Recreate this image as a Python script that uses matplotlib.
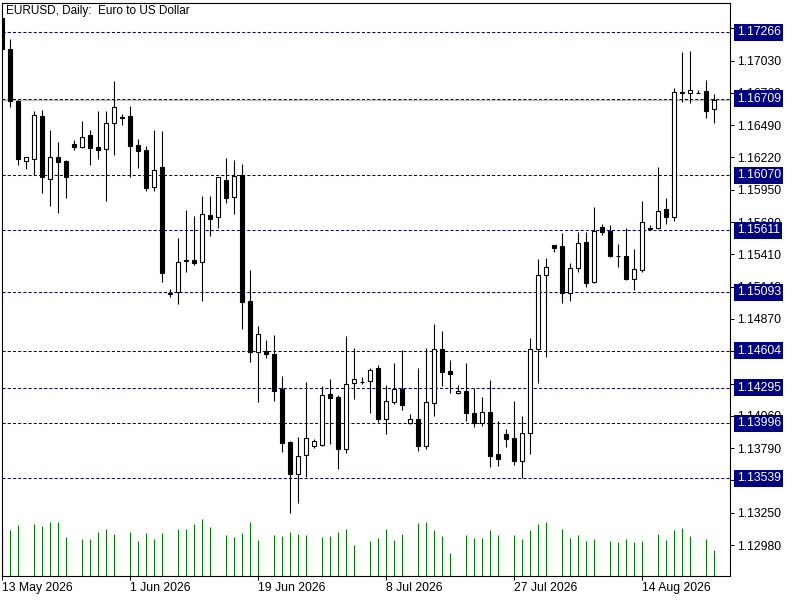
#EURUSD daily candles, MT5 look

import numpy as np
import pandas as pd
import matplotlib
matplotlib.use("Agg")
import matplotlib.pyplot as plt
from matplotlib.patches import Rectangle

# trading days: Sunday bars included, Saturdays skipped
all_days = pd.date_range("2026-05-13", "2026-08-25")
dates = all_days[all_days.dayofweek != 5]

opens = [1.17383, 1.17126, 1.16691, 1.16192, 1.16204, 1.16566, 1.16037, 1.16221, 1.16190, 1.16332,
         1.16304, 1.16407, 1.16304, 1.16288, 1.16505, 1.16555, 1.16566, 1.16324, 1.16282, 1.15975,
         1.16142, 1.15090, 1.15097, 1.15358, 1.15362, 1.15343, 1.15736, 1.15724, 1.16031, 1.15886,
         1.16073, 1.15019, 1.14591, 1.14604, 1.14576, 1.14284, 1.13838, 1.13576, 1.13730, 1.13805,
         1.13818, 1.14242, 1.14217, 1.13785, 1.14331, 1.14345, 1.14353, 1.14457, 1.14035, 1.14178,
         1.14284, 1.13997, 1.14033, 1.13810, 1.14164, 1.14616, 1.14434, 1.14248, 1.14267, 1.14081,
         1.13997, 1.14089, 1.13740, 1.13905, 1.13872, 1.13684, 1.13913, 1.14616, 1.15234, 1.15485,
         1.15479, 1.15084, 1.15293, 1.15510, 1.15181, 1.15636, 1.15605, 1.15398, 1.15396, 1.15203,
         1.15279, 1.15632, 1.15627, 1.15789, 1.15719, 1.16764, 1.16756, 1.16761, 1.16778, 1.16622]
highs = [1.17390, 1.17210, 1.16700, 1.16221, 1.16608, 1.16616, 1.16449, 1.16351, 1.16198, 1.16365,
         1.16524, 1.16449, 1.16608, 1.16608, 1.16859, 1.16583, 1.16650, 1.16371, 1.16315, 1.16449,
         1.16441, 1.15120, 1.15544, 1.15780, 1.15730, 1.15897, 1.15897, 1.16060, 1.16212, 1.16198,
         1.16165, 1.15279, 1.14810, 1.14693, 1.14735, 1.14392, 1.13850, 1.13880, 1.14340, 1.13866,
         1.14309, 1.14365, 1.14234, 1.14727, 1.14624, 1.14382, 1.14457, 1.14484, 1.14317, 1.14499,
         1.14610, 1.14075, 1.14457, 1.14624, 1.14827, 1.14769, 1.14526, 1.14315, 1.14499, 1.14290,
         1.14219, 1.14359, 1.14019, 1.13947, 1.14183, 1.14058, 1.14713, 1.15368, 1.15376, 1.15490,
         1.15590, 1.15340, 1.15599, 1.15599, 1.15808, 1.15663, 1.15655, 1.15496, 1.15627, 1.15452,
         1.15855, 1.15655, 1.16142, 1.15878, 1.16798, 1.17104, 1.17112, 1.16783, 1.16867, 1.16747]
lows = [1.17110, 1.16639, 1.16156, 1.16123, 1.16073, 1.15920, 1.15816, 1.15758, 1.15878, 1.16282,
        1.16296, 1.16156, 1.16207, 1.15858, 1.16240, 1.16491, 1.16059, 1.16129, 1.15942, 1.15942,
        1.15181, 1.15055, 1.14992, 1.15264, 1.15320, 1.15022, 1.15565, 1.15632, 1.15836, 1.15744,
        1.14783, 1.14512, 1.14178, 1.14545, 1.14186, 1.13760, 1.13245, 1.13328, 1.13546, 1.13793,
        1.13810, 1.13824, 1.13617, 1.13751, 1.14200, 1.14323, 1.14081, 1.14010, 1.13908, 1.14159,
        1.14108, 1.13995, 1.13768, 1.13780, 1.14061, 1.14311, 1.14248, 1.14245, 1.14019, 1.13964,
        1.13974, 1.13634, 1.13643, 1.13801, 1.13648, 1.13537, 1.13740, 1.14336, 1.14549, 1.15427,
        1.15000, 1.15022, 1.15264, 1.15139, 1.15172, 1.15571, 1.15385, 1.15306, 1.15195, 1.15111,
        1.15264, 1.15614, 1.15619, 1.15661, 1.15691, 1.16686, 1.16677, 1.16756, 1.16547, 1.16505]
closes = [1.17124, 1.16691, 1.16207, 1.16221, 1.16574, 1.16054, 1.16221, 1.16184, 1.16054, 1.16304,
          1.16388, 1.16296, 1.16284, 1.16505, 1.16639, 1.16552, 1.16318, 1.16276, 1.15967, 1.16112,
          1.15251, 1.15080, 1.15348, 1.15362, 1.15340, 1.15747, 1.15705, 1.16054, 1.15883, 1.16064,
          1.15014, 1.14591, 1.14741, 1.14579, 1.14270, 1.13835, 1.13576, 1.13721, 1.13872, 1.13847,
          1.14231, 1.14211, 1.13785, 1.14323, 1.14365, 1.14340, 1.14443, 1.14033, 1.14183, 1.14284,
          1.14153, 1.14033, 1.13810, 1.14173, 1.14616, 1.14428, 1.14407, 1.14267, 1.14086, 1.13997,
          1.14089, 1.13726, 1.13699, 1.13868, 1.13684, 1.13913, 1.14616, 1.15234, 1.15306, 1.15465,
          1.15084, 1.15293, 1.15502, 1.15172, 1.15607, 1.15599, 1.15396, 1.15395, 1.15203, 1.15284,
          1.15682, 1.15625, 1.15774, 1.15719, 1.16764, 1.16756, 1.16783, 1.16759, 1.16610, 1.16700]
# tick volume, thousands (Sunday bars ~0)
volumes = [45, 46, 51, 0, 52, 50, 54, 54, 39, 0, 37, 37, 44, 47, 42, 0, 44, 35, 43, 37,
           43, 0, 47, 47, 52, 57, 49, 0, 41, 39, 43, 54, 36, 0, 41, 40, 44, 42, 41, 0,
           39, 40, 44, 47, 31, 0, 35, 38, 47, 36, 42, 0, 53, 54, 46, 40, 23, 0, 41, 38,
           38, 46, 41, 0, 41, 37, 46, 52, 54, 0, 47, 38, 41, 35, 37, 0, 35, 34, 37, 34,
           35, 0, 42, 36, 46, 48, 40, 0, 37, 26]

levels = [1.17266, 1.16709, 1.16070, 1.15611, 1.15093, 1.14604, 1.14295, 1.13996, 1.13539]
bid = 1.16700
price_ticks = [1.12980, 1.13250, 1.13520, 1.13790, 1.14060, 1.14330, 1.14600, 1.14870,
               1.15140, 1.15410, 1.15680, 1.15950, 1.16220, 1.16490, 1.16760, 1.17030, 1.17300]
date_ticks = ["2026-05-13", "2026-06-01", "2026-06-19", "2026-07-08", "2026-07-27", "2026-08-14"]
date_labels = ["13 May 2026", "1 Jun 2026", "19 Jun 2026", "8 Jul 2026", "27 Jul 2026", "14 Aug 2026"]

title = "EURUSD, Daily:  Euro to US Dollar"

plt.rcParams['font.family'] = ['Liberation Sans', 'DejaVu Sans']
navy = '#000080'
fs = 8.8


def main():
    fig = plt.figure(figsize=(8, 6), dpi=100)
    ax = fig.add_axes([2 / 800, 24 / 600, 728 / 800, 573 / 600])

    # volumes along the bottom, behind the candles
    x = np.arange(len(dates))
    ax2 = ax.twinx()
    vx = [i for i in x if volumes[i] > 0]
    vv = [volumes[i] for i in vx]
    ax2.vlines(vx, 0, vv, colors='#008000', lw=0.8)
    ax2.set_ylim(0, max(volumes) * 10)
    ax2.set_yticks([])
    ax2.set_zorder(ax.get_zorder() - 1)
    ax.patch.set_visible(False)
    for s in ax2.spines.values():
        s.set_visible(False)

    w = 0.5
    for i in x:
        o, h, l, c = opens[i], highs[i], lows[i], closes[i]
        ax.vlines(i, l, h, color='black', lw=0.8, zorder=3)
        fc = 'black' if c < o else 'white'
        ax.add_patch(Rectangle((i - w / 2, min(o, c)), w, abs(c - o),
                               fc=fc, ec='black', lw=0.8, zorder=4))

    for lv in levels:
        ax.axhline(lv, color=navy, lw=0.75, ls=(0, (3, 2)), zorder=1)
        ax.text(1.0095, lv, f"{lv:.5f}", transform=ax.get_yaxis_transform(),
                color='white', fontsize=fs, va='center', ha='left', zorder=10,
                bbox=dict(boxstyle='square,pad=0.2', fc=navy, ec='none'))
    ax.axhline(bid, color='#c0c0c0', lw=0.75, zorder=0.9)

    ax.set_xlim(-0.0625, 90.94)
    ax.set_ylim(1.12721, 1.17511)
    ax2.set_xlim(ax.get_xlim())

    ax.yaxis.tick_right()
    ax.set_yticks(price_ticks)
    ax.set_yticklabels([f"{t:.5f}" for t in price_ticks])
    ax.tick_params(axis='y', which='both', left=False, right=True, labelleft=False,
                   labelright=True, length=3, width=0.75, pad=2, labelsize=fs)

    pos = [dates.get_loc(pd.Timestamp(d)) for d in date_ticks]
    ax.set_xticks(pos)
    ax.set_xticklabels(date_labels)
    for lab in ax.get_xticklabels():
        lab.set_ha('left')
    ax.tick_params(axis='x', length=3, width=0.75, pad=1.5, labelsize=fs)

    for s in ax.spines.values():
        s.set_linewidth(0.8)
        s.set_color('black')

    ax.annotate(title, xy=(0, 1), xycoords='axes fraction', xytext=(4, -2),
                textcoords='offset pixels', ha='left', va='top', fontsize=8.5)

    fig.savefig("out.png", dpi=100)


if __name__ == "__main__":
    main()
